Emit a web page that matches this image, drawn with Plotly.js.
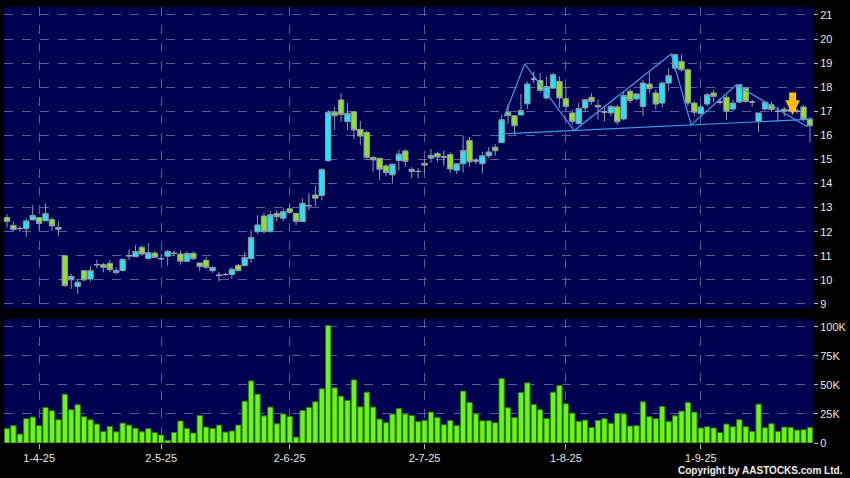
<!DOCTYPE html>
<html><head><meta charset="utf-8">
<script src="https://cdn.plot.ly/plotly-3.0.1.min.js"></script>
<style>html,body{margin:0;padding:0;background:#000;}#chart{width:850px;height:478px;}</style>
</head><body><div id="chart"></div>
<script>
// Daily bars, 25-Mar-2025 .. 24-Sep-2025 (trading-day index)
const openP = [12.59,12.26,12.13,12.12,12.49,12.59,12.45,12.50,12.10,11.00,
10.00,9.72,10.38,10.03,10.63,10.63,10.68,10.30,10.39,11.00,
10.96,11.35,10.89,11.11,10.88,10.98,11.10,11.07,10.77,11.10,
10.70,10.81,10.38,10.19,10.22,10.22,10.60,10.60,10.88,12.00,
12.65,12.00,12.76,12.56,12.95,12.76,12.42,13.08,13.52,13.50,
14.95,16.96,17.47,16.57,16.98,16.25,16.12,15.09,15.05,14.73,
14.36,14.95,15.35,14.59,14.50,14.84,15.05,15.25,15.10,15.20,
14.55,14.82,15.79,14.94,14.82,15.15,15.51,15.70,16.96,16.81,
16.85,17.31,18.34,18.28,17.55,17.96,18.24,17.52,16.93,16.49,
17.14,17.58,17.25,16.97,16.93,17.18,16.68,17.83,17.51,17.20,
18.13,17.76,17.34,18.17,18.79,19.07,18.72,17.34,16.90,17.30,
17.76,17.38,17.58,17.09,17.38,17.96,17.38,16.58,17.09,17.27,
17.00,17.09,17.07,17.00,17.18,16.68];
const highP = [12.72,12.42,12.24,12.56,13.10,12.60,13.18,12.59,12.42,11.02,
10.24,10.03,10.41,10.56,10.82,10.70,10.82,10.52,10.89,11.26,
11.44,11.44,11.53,11.21,11.07,11.24,11.21,11.21,11.18,11.18,
10.73,10.96,10.55,10.32,10.30,10.52,10.66,11.18,12.06,12.68,
12.79,12.86,12.90,12.97,13.17,12.78,13.37,13.60,13.92,14.62,
17.05,17.20,17.76,17.34,17.00,16.60,16.20,15.12,15.05,14.82,
14.82,15.40,15.43,14.68,14.64,15.02,15.43,15.33,15.36,15.30,
14.85,15.97,15.93,15.05,15.32,15.52,15.64,16.86,17.30,16.85,
17.72,18.24,18.65,18.59,18.45,18.59,18.45,18.03,17.07,17.34,
17.48,17.76,17.48,17.20,17.27,17.27,17.83,17.93,17.76,18.31,
18.61,17.90,18.24,18.79,19.41,19.35,18.79,17.41,17.27,17.79,
17.90,17.55,17.69,17.48,18.13,18.03,17.48,16.93,17.41,17.41,
17.20,17.18,17.15,17.10,17.27,16.75];
const lowP = [12.17,12.00,12.00,11.79,12.47,12.03,12.45,12.03,11.83,9.72,
9.62,9.41,9.94,9.94,10.49,10.31,10.31,10.24,10.34,10.83,
10.96,11.00,10.82,10.90,10.82,10.59,10.98,10.63,10.73,10.82,
10.36,10.45,10.29,9.94,10.16,10.04,10.36,10.55,10.71,11.90,
11.92,11.98,12.42,12.42,12.76,12.26,12.40,12.90,13.07,13.30,
14.90,16.22,16.57,16.22,15.85,15.60,15.00,14.49,14.15,14.30,
14.00,14.55,14.70,14.22,14.22,14.43,14.86,14.90,14.74,14.43,
14.40,14.45,14.70,14.80,14.43,15.05,15.15,15.67,16.47,16.03,
16.82,17.09,18.17,17.78,17.48,17.93,17.14,17.00,16.44,16.44,
16.96,17.27,16.65,16.58,16.79,16.44,16.62,17.34,17.45,16.79,
17.76,17.07,17.14,17.83,18.65,18.65,17.20,16.79,16.86,17.20,
17.38,17.27,16.65,17.00,17.34,17.34,17.20,16.13,17.03,16.96,
16.58,16.79,16.95,16.90,16.58,15.71];
const closeP = [12.42,12.09,12.13,12.45,12.67,12.34,12.75,12.24,12.18,9.76,
10.14,9.90,10.00,10.38,10.63,10.52,10.42,10.39,10.85,11.00,
11.18,11.07,11.13,10.93,10.88,11.18,11.10,10.77,11.10,10.88,
10.55,10.52,10.52,10.19,10.22,10.44,10.38,10.93,11.76,12.28,
12.00,12.71,12.62,12.83,12.80,12.42,13.18,13.08,13.39,14.59,
16.96,16.81,16.87,16.92,16.22,15.97,15.09,14.98,14.59,14.45,
14.80,15.22,14.92,14.50,14.50,14.76,15.17,15.10,15.10,14.60,
14.82,15.37,14.90,14.94,15.15,15.31,15.36,16.65,16.82,16.40,
17.03,18.13,18.34,17.87,18.03,18.52,17.55,17.20,16.58,17.12,
17.48,17.41,17.18,16.97,17.20,16.56,17.66,17.45,17.72,18.17,
17.94,17.30,18.17,18.48,19.35,18.72,17.34,16.96,17.18,17.69,
17.62,17.38,17.00,17.34,18.10,17.41,17.38,16.93,17.38,17.07,
17.00,17.00,17.00,17.00,16.68,16.40];
// Volume in thousands of shares
const volumeK = [12.3,14.9,7.7,20.9,22.3,14.9,30.6,27.7,20.0,42.0,
28.6,32.9,22.6,20.0,16.3,10.0,14.3,9.7,17.1,15.4,
12.6,9.7,12.3,8.9,6.9,2.3,9.1,18.9,12.6,8.6,
23.7,13.7,12.6,15.4,9.4,10.3,15.4,36.0,53.4,42.0,
23.4,30.9,16.6,24.9,22.9,5.1,28.0,30.6,35.4,46.6,
101.0,47.4,40.3,36.6,54.3,31.1,43.7,30.9,20.6,17.4,
24.9,29.7,24.9,23.7,18.3,19.4,26.6,22.0,15.7,19.4,
14.9,44.6,34.9,25.1,19.1,19.1,17.4,55.4,30.3,22.0,
43.4,51.7,33.1,28.6,21.1,43.7,49.4,33.7,25.7,18.6,
19.7,13.4,19.4,20.9,16.9,25.4,24.9,14.6,14.9,35.4,
22.6,20.9,31.4,18.6,23.4,27.4,34.9,26.6,12.9,14.0,
12.9,8.9,16.3,14.0,20.0,14.0,10.0,33.4,13.1,16.6,
10.0,13.7,13.4,11.1,11.4,13.4];
// Date tick labels and the trading-day index they fall on
const tickLabels = ["1-4-25","2-5-25","2-6-25","2-7-25","1-8-25","1-9-25"];
const tickIdx = [5,24,44,65,87,108];
const priceTicks = [9,10,11,12,13,14,15,16,17,18,19,20,21];
const volTicks = [0,25,50,75,100];
const volTickLabels = ["0","25K","50K","75K","100K"];
// Drawn pattern (zigzag + neckline) in (index, price)
const zigIdx = [77.4,80.6,88.3,103.4,106.5,113.5,124.6];
const zigPx  = [16.78,18.97,16.20,19.38,16.43,18.09,16.36];
const neckIdx = [77.0,125.4];
const neckPx  = [16.06,16.67];
// Signal arrow (index, price of tip)
const arrowIdx = 122.3, arrowPx = 16.85;

const idx = openP.map((_, i) => i);
const isDoji = idx.map(i => Math.abs(openP[i] - closeP[i]) < 0.005);
const pick = (arr, want) => idx.filter(i => isDoji[i] === want).map(i => arr[i]);

const wick = '#8d9aa8';
const gridColor = '#5d5d9a';
const tf = {family: 'Liberation Sans, Arial, sans-serif', size: 11, color: '#e6e6e6'};

const traces = [
  {type: 'candlestick', xaxis: 'x', yaxis: 'y',
   x: pick(idx, false), open: pick(openP, false), high: pick(highP, false),
   low: pick(lowP, false), close: pick(closeP, false),
   increasing: {line: {color: wick, width: 1}, fillcolor: '#27e3f2'},
   decreasing: {line: {color: wick, width: 1}, fillcolor: '#8ee02c'},
   hoverinfo: 'skip', showlegend: false},
  {type: 'candlestick', xaxis: 'x', yaxis: 'y',
   x: pick(idx, true), open: pick(openP, true), high: pick(highP, true),
   low: pick(lowP, true), close: pick(closeP, true),
   increasing: {line: {color: '#a8a8b4', width: 1}, fillcolor: '#a8a8b4'},
   decreasing: {line: {color: '#a8a8b4', width: 1}, fillcolor: '#a8a8b4'},
   hoverinfo: 'skip', showlegend: false},
  {type: 'scatter', mode: 'lines', xaxis: 'x', yaxis: 'y', x: zigIdx, y: zigPx,
   line: {color: '#3d9fe6', width: 1.2}, hoverinfo: 'skip', showlegend: false},
  {type: 'scatter', mode: 'lines', xaxis: 'x', yaxis: 'y', x: neckIdx, y: neckPx,
   line: {color: '#3d9fe6', width: 1.2}, hoverinfo: 'skip', showlegend: false},
  {type: 'bar', xaxis: 'x', yaxis: 'y2', x: idx, y: volumeK,
   marker: {color: '#6cf41c', line: {color: '#2e7a08', width: 1}},
   hoverinfo: 'skip', showlegend: false}
];

const layout = {
  width: 850, height: 478,
  margin: {l: 4, r: 37, t: 7, b: 35},
  paper_bgcolor: '#000000', plot_bgcolor: '#000050',
  showlegend: false, boxgap: 0.16, boxgroupgap: 0, bargap: 0.17,
  xaxis: {range: [-0.47, 125.47], anchor: 'y2', tickmode: 'array',
    tickvals: tickIdx, ticktext: tickLabels, showgrid: true, gridcolor: gridColor,
    griddash: 'dash', gridwidth: 1, ticks: 'outside', ticklen: 5, tickcolor: '#bbbbbb',
    tickfont: tf, zeroline: false, showline: false, rangeslider: {visible: false}},
  yaxis: {domain: [0.3096, 1], range: [8.83, 21.33], side: 'right', tickmode: 'array',
    tickvals: priceTicks, showgrid: true, gridcolor: gridColor, griddash: 'dash',
    ticks: 'outside', ticklen: 4, tickcolor: '#bbbbbb', tickfont: tf, zeroline: false},
  yaxis2: {domain: [0, 0.2844], range: [0, 106.6], side: 'right', tickmode: 'array',
    tickvals: volTicks, ticktext: volTickLabels, showgrid: true, gridcolor: gridColor,
    griddash: 'dash', ticks: 'outside', ticklen: 4, tickcolor: '#bbbbbb', tickfont: tf,
    zeroline: false},
  annotations: [
    {x: arrowIdx, y: arrowPx, xref: 'x', yref: 'y', ax: 0, ay: -24, text: '',
     showarrow: true, arrowhead: 2, arrowwidth: 7, arrowsize: 0.42,
     arrowcolor: '#ffbe10', standoff: 0},
    {xref: 'paper', yref: 'paper', x: 1.0396, y: -0.064, xanchor: 'right',
     yanchor: 'middle', showarrow: false, text: 'Copyright by AASTOCKS.com Ltd.',
     font: {family: 'Liberation Sans, Arial, sans-serif', size: 10, color: '#f0f0f0',
            weight: 'bold'}}
  ]
};

Plotly.newPlot('chart', traces, layout, {staticPlot: true, displayModeBar: false});
</script></body></html>
